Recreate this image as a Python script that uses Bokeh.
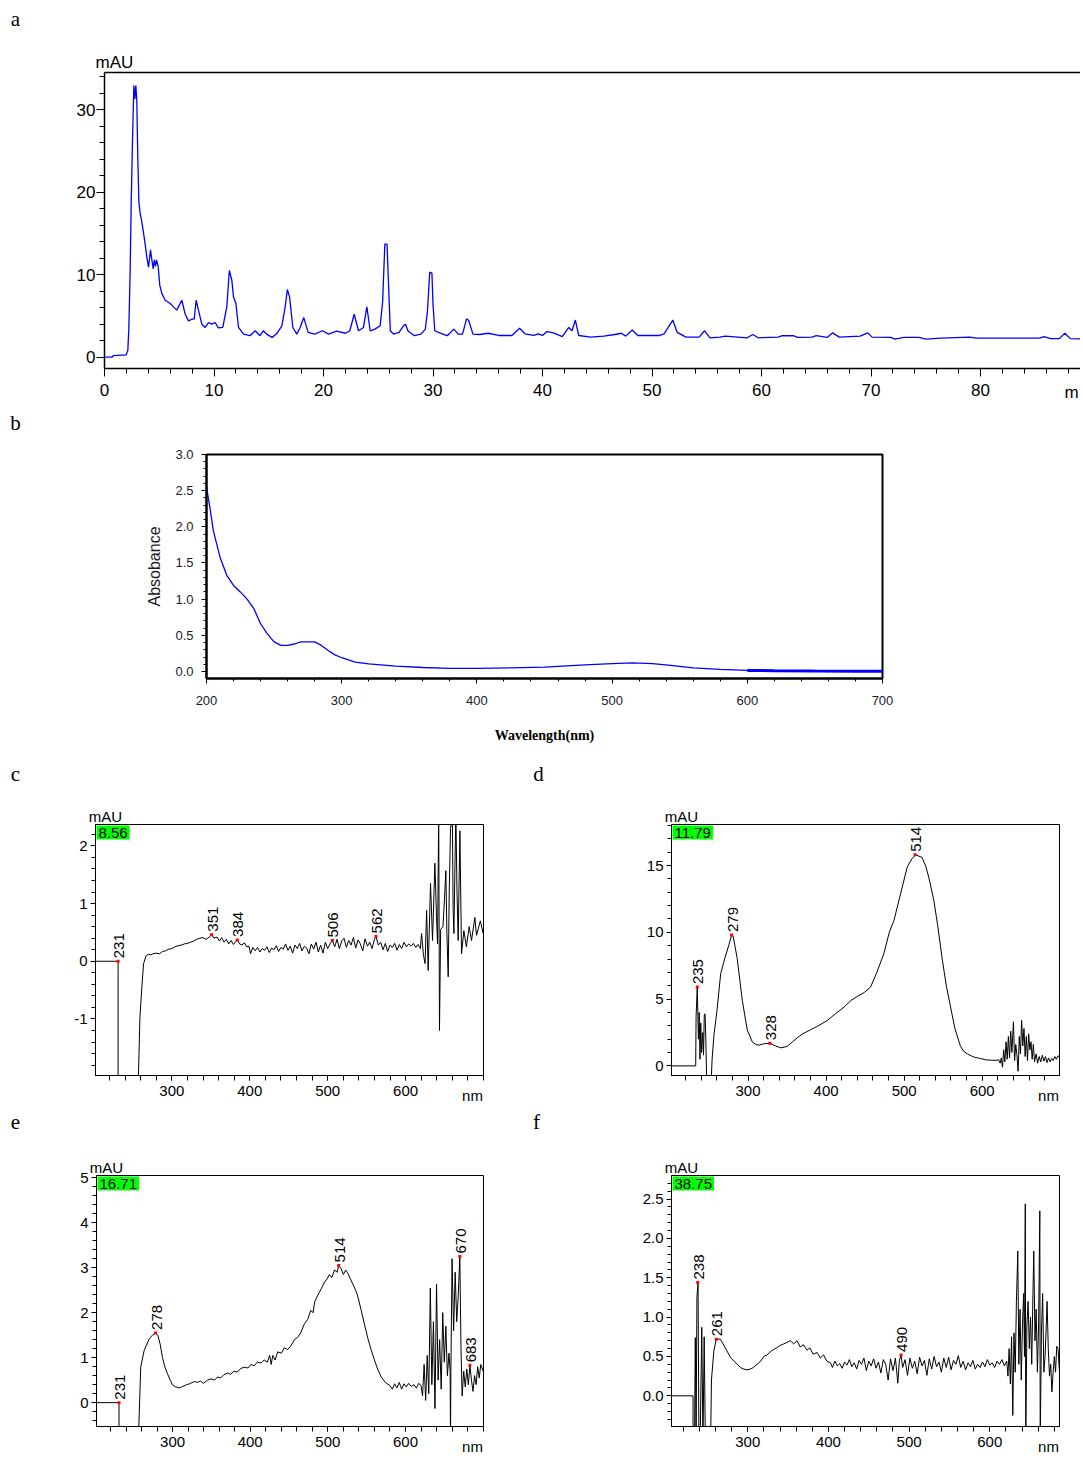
import math
import numpy as np
from bokeh.plotting import figure
from bokeh.models import Range1d, LinearAxis, FixedTicker, Label, NumeralTickFormatter
from bokeh.layouts import column, row
from bokeh.embed import file_html
from bokeh.resources import INLINE
from bokeh.core.properties import value

# ---------------- data ----------------
A_TIME = [0, 0.7, 0.8, 1.98, 2.13, 2.22, 2.34, 2.44, 2.56, 2.68, 2.77, 2.86, 2.95, 3.04, 3.14, 3.26, 3.41,
          3.56, 3.71, 3.87, 4.02, 4.2, 4.3, 4.45, 4.55, 4.65, 4.75, 4.9, 5.05, 5.24, 5.54, 6.0, 6.3, 6.6,
          7.06, 7.37, 7.67, 7.98, 8.19, 8.37, 8.58, 8.89, 9.19, 9.5, 9.8, 10.1, 10.4, 10.8, 11.17, 11.4,
          11.63, 11.78, 12.0, 12.24, 12.7, 13.3, 13.76, 14.2, 14.5, 14.8, 15.3, 15.7, 16.2, 16.5, 16.7,
          16.9, 17.2, 17.56, 17.87, 18.2, 18.6, 19.2, 19.9, 20.46, 21.2, 22.0, 22.4, 22.8, 23.2, 23.65,
          23.96, 24.26, 24.7, 25.17, 25.4, 25.6, 25.8, 25.9, 26.1, 26.4, 26.9, 27.3, 27.5, 27.7, 28.3,
          28.9, 29.3, 29.5, 29.7, 29.9, 30.0, 30.16, 30.5, 30.9, 31.3, 31.9, 32.3, 32.7, 33.06, 33.26,
          33.65, 34.25, 35.04, 36.0, 37.2, 37.9, 38.4, 39.2, 39.6, 40.0, 40.4, 41.0, 41.8, 42.4, 42.7,
          43.0, 43.3, 44.4, 45.6, 46.6, 47.2, 47.6, 48.2, 48.7, 50.7, 51.1, 51.9, 52.3, 53.1, 54.3, 54.8,
          55.3, 56.2, 56.7, 58.7, 59.2, 59.7, 61.5, 61.9, 62.9, 63.3, 64.6, 65.0, 66.0, 66.5, 67.1, 69.0,
          69.7, 70.1, 71.8, 72.2, 73.0, 74.4, 75.0, 76.4, 79.0, 79.6, 85.4, 85.8, 86.4, 87.2, 87.7, 88.2,
          89.3]
A_MAU = [0.0, 0.0, 0.2, 0.28, 0.8, 3.4, 10.3, 18.8, 26.4, 32.9, 31.3, 32.9, 31.1, 24.2, 18.8, 17.4, 16.4,
         15.1, 13.7, 12.1, 10.9, 13.0, 12.0, 10.7, 11.8, 11.0, 11.8, 11.0, 8.7, 7.7, 6.9, 6.5, 6.1, 5.7,
         6.9, 5.2, 4.4, 4.6, 4.6, 6.9, 5.7, 4.0, 3.6, 4.2, 4.0, 4.2, 3.55, 3.6, 6.1, 10.5,
         9.3, 7.3, 6.5, 3.6, 2.8, 2.6, 3.2, 2.6, 3.2, 2.8, 2.4, 2.8, 3.8, 6.1, 8.2,
         7.3, 3.6, 2.8, 3.6, 4.8, 3.0, 2.8, 3.2, 2.8, 3.15, 2.9, 3.2, 5.2, 3.2, 3.6,
         6.1, 3.2, 3.4, 3.8, 6.7, 13.7, 13.7, 10.1, 3.2, 2.8, 3.0, 3.8, 4.0, 3.2, 2.6,
         2.8, 3.4, 5.7, 10.3, 10.2, 6.4, 3.2, 3.0, 2.8, 2.6, 3.4, 2.8, 2.8, 4.65, 4.45,
         2.8, 2.75, 2.9, 2.63, 2.63, 3.5, 2.83, 2.63, 2.83, 2.63, 3.1, 2.95, 2.5, 3.6, 3.2,
         4.5, 2.63, 2.43, 2.55, 2.75, 2.9, 2.55, 3.3, 2.63, 2.63, 2.83, 4.5, 3.0, 2.43, 2.43, 3.2,
         2.35, 2.43, 2.55, 2.35, 2.75, 2.35, 2.43, 2.6, 2.6, 2.4, 2.43, 2.6, 2.4, 2.95, 2.43, 2.55,
         2.95, 2.43, 2.4, 2.2, 2.4, 2.4, 2.2, 2.3, 2.43, 2.3, 2.3, 2.5, 2.25, 2.25, 2.9, 2.25,
         2.2]
A_XTICKS = [0, 10, 20, 30, 40, 50, 60, 70, 80]
A_YTICKS = [0, 10, 20, 30]

B_WL = [200, 202.5, 205, 210, 215, 220, 225, 230, 235, 240, 245, 250, 255, 260, 265, 270, 275, 280, 285,
        290, 295, 300, 310, 320, 340, 360, 380, 400, 425, 450, 460, 480, 500, 515, 530, 545, 560, 580,
        600, 620, 650, 680, 700]
B_ABS = [2.55, 2.27, 1.95, 1.58, 1.33, 1.19, 1.10, 1.0, 0.87, 0.66, 0.52, 0.41, 0.36, 0.36, 0.38, 0.41,
         0.41, 0.41, 0.36, 0.29, 0.23, 0.19, 0.13, 0.106, 0.074, 0.055, 0.042, 0.042, 0.05, 0.06, 0.07,
         0.09, 0.11, 0.12, 0.11, 0.08, 0.05, 0.03, 0.015, 0.01, 0.005, 0.003, 0.003]
B_XTICKS = [200, 300, 400, 500, 600, 700]
B_YTICKS = [0.0, 0.5, 1.0, 1.5, 2.0, 2.5, 3.0]

C_SPECTRUM = [(202, 0), (231, 0), (231, -2.6), (256, -2.6), (259, -0.97), (261.5, -0.45), (263.7, -0.04),
    (267, 0.10), (270, 0.12), (273, 0.11), (276, 0.13), (280, 0.14), (284, 0.13), (288, 0.17), (292, 0.18),
    (296, 0.21), (300, 0.22), (304, 0.25), (308, 0.27), (312, 0.28), (316, 0.30), (320, 0.31), (324, 0.33),
    (328, 0.35), (332, 0.38), (336, 0.40), (340, 0.41), (344, 0.38), (348, 0.42), (351, 0.46), (354, 0.40),
    (358, 0.42), (361, 0.35), (364, 0.41), (367, 0.33), (370, 0.38), (373, 0.30), (376, 0.36), (379, 0.29),
    (382, 0.34), (384, 0.37), (387, 0.30), (390, 0.28), (393, 0.32), (396, 0.25), (399, 0.26), (401, 0.13),
    (404, 0.24), (407, 0.18), (410, 0.24), (413, 0.16), (416, 0.22), (419, 0.19), (422, 0.25), (425, 0.15),
    (428, 0.23), (431, 0.20), (434, 0.27), (437, 0.17), (440, 0.24), (443, 0.21), (446, 0.30), (449, 0.19),
    (452, 0.26), (455, 0.14), (458, 0.28), (461, 0.22), (464, 0.31), (467, 0.18), (470, 0.26), (473, 0.23),
    (476, 0.13), (479, 0.30), (482, 0.21), (485, 0.33), (488, 0.16), (491, 0.28), (494, 0.14), (497, 0.33),
    (500, 0.22), (503, 0.30), (506, 0.36), (509, 0.25), (512, 0.38), (515, 0.22), (518, 0.35), (521, 0.40),
    (524, 0.24), (527, 0.36), (530, 0.28), (533, 0.41), (536, 0.23), (539, 0.37), (542, 0.30), (545, 0.18),
    (548, 0.39), (551, 0.26), (554, 0.33), (557, 0.22), (560, 0.38), (562, 0.43), (565, 0.28), (568, 0.33),
    (571, 0.20), (574, 0.31), (577, 0.17), (580, 0.28), (583, 0.24), (586, 0.31), (589, 0.19), (592, 0.29),
    (595, 0.22), (598, 0.33), (601, 0.25), (604, 0.30), (607, 0.26), (610, 0.31), (613, 0.24), (616, 0.29),
    (619, 0.22), (620.5, 0.48), (623, 0.10), (625, -0.04), (627, 0.88), (629, -0.16), (632, 1.35),
    (634.6, 0.36), (637.6, 1.70), (639.7, 0.76), (641, 0.30), (642.5, 2.6), (643.5, -1.2), (645, 0.55),
    (648, 0.60), (650, 1.1), (651.7, 1.57), (653, 0.5), (654.7, -0.27), (656, 1.2), (657.7, 2.3), (660, 2.6),
    (661, 0.9), (662, 0.48), (664.5, 2.6), (666, 1.2), (667.5, 0.36), (669.7, 2.26), (671.8, 0.13),
    (674.8, 0.53), (678, 0.25), (681.6, 0.60), (684.6, 0.36), (688.9, 0.76), (691, 0.45), (693, 0.55),
    (696, 0.70), (699.6, 0.48)]
C_PEAK_WL = [231, 351, 384, 506, 562]
C_PEAK_MAU = [0.0, 0.46, 0.37, 0.36, 0.43]
C_TAG = "8.56"
C_YTICKS = [-1, 0, 1, 2]

D_SPECTRUM = [(202, 0), (233, 0), (233.5, 3.7), (235, 5.9), (236.5, 2.0), (237.5, 4.0), (238.5, 0.5),
    (239.5, 3.2), (240.5, 1.0), (242, 2.5), (243, 0.8), (244, 3.8), (245, 3.9), (246, 2.0), (247, -1.0),
    (253, -1.0), (254, 0.5), (256.5, 2.4), (260, 4.0), (265, 6.9), (270.5, 8.1), (275.7, 9.1), (279, 9.8),
    (281, 9.7), (286, 8.1), (292.7, 4.9), (299, 2.7), (305.5, 1.8), (310, 1.6), (314, 1.55), (320, 1.65),
    (328, 1.7), (335, 1.5), (342, 1.35), (350, 1.45), (357, 1.8), (363, 2.1), (370, 2.4), (380, 2.7),
    (390, 3.0), (401.6, 3.4), (412, 3.9), (423, 4.4), (432, 4.9), (440, 5.2), (449, 5.5), (457, 5.9),
    (465, 7.0), (474, 8.4), (481, 10.0), (487, 10.9), (495.5, 12.9), (504, 14.9), (510, 15.5),
    (514.7, 15.8), (519, 15.7), (523, 15.6), (528, 14.9), (532, 14.0), (538, 12.4), (543, 10.5),
    (549, 7.9), (554, 6.0), (559.5, 4.4), (565, 2.8), (572, 1.5), (576, 1.1), (581, 0.9), (586, 0.75),
    (590, 0.65), (594, 0.6), (598, 0.55), (605, 0.45), (612, 0.42), (619, 0.42), (621, 0.47), (623, 0.2),
    (624.5, 0.6), (626, -0.1), (627.5, 1.2), (629, 0.3), (630.5, 1.8), (632, 0.5), (633.5, 2.2), (635, 0.6),
    (636.5, 2.6), (638, 1.0), (640, 3.3), (641.5, 0.4), (643, 1.6), (644.5, 0.8), (646, -0.4), (647.5, 2.2),
    (649, 0.9), (650.5, 3.4), (652, 1.5), (653.5, 2.8), (655, 0.7), (656.5, 2.2), (658, 0.4), (659.5, 2.4),
    (661, 1.2), (662.5, 1.8), (664, 0.5), (665.5, 1.6), (667, 0.3), (669, 0.9), (671, 0.2), (673, 0.7),
    (675, 0.3), (677, 0.8), (679, 0.35), (681, 0.7), (683, 0.25), (685, 0.6), (687, 0.3), (689, 0.55),
    (691, 0.4), (693, 0.7), (695, 0.5), (697, 0.75), (699, 0.7)]
D_PEAK_WL = [235, 279, 328, 514]
D_PEAK_MAU = [5.9, 9.8, 1.7, 15.8]
D_TAG = "11.79"
D_YTICKS = [0, 5, 10, 15]

E_SPECTRUM = [(202, 0), (231, 0), (231, -0.8), (256, -0.8), (259, 0.8), (263.4, 1.16), (270, 1.42),
    (274, 1.50), (278, 1.55), (281, 1.5), (284, 1.3), (287, 1.0), (290, 0.8), (293.5, 0.64), (297, 0.5),
    (300, 0.39), (304, 0.35), (308.6, 0.33), (313, 0.36), (318, 0.40), (322, 0.42), (328, 0.47), (332, 0.45),
    (336, 0.48), (340, 0.43), (345, 0.50), (349.5, 0.53), (354, 0.50), (358, 0.57), (362, 0.55), (366, 0.62),
    (371, 0.66), (375, 0.63), (379, 0.70), (383, 0.68), (388, 0.76), (392.5, 0.79), (397, 0.77), (401, 0.85),
    (405, 0.82), (409, 0.90), (414, 0.88), (418, 0.95), (422, 0.90), (425, 1.05), (427, 0.85), (429, 1.05),
    (432, 0.95), (435.5, 1.13), (440, 1.10), (444, 1.22), (448, 1.18), (452, 1.25), (457, 1.40), (461, 1.45),
    (465, 1.55), (470, 1.76), (474, 1.85), (478, 2.05), (481, 2.0), (483, 2.24), (486, 2.35), (489, 2.45),
    (492, 2.55), (495.7, 2.68), (499, 2.75), (502, 2.85), (505, 2.78), (508.6, 2.95), (512, 2.90),
    (514, 3.05), (517, 2.98), (520, 2.85), (523, 2.95), (525.8, 2.87), (529, 2.75), (534, 2.57), (538, 2.4),
    (543, 2.05), (547, 1.75), (552, 1.4), (556, 1.16), (560, 0.95), (564, 0.75), (568.8, 0.57), (574, 0.45),
    (580, 0.38), (583, 0.30), (586, 0.42), (589, 0.33), (592, 0.45), (595, 0.30), (598, 0.42), (601, 0.35),
    (604, 0.43), (607.5, 0.36), (611, 0.40), (614, 0.32), (617, 0.43), (620, 0.38), (622, 0.15), (624, 0.85),
    (626, 0.05), (628, 1.05), (630, 0.2), (632, 2.55), (634, 0.4), (636, 1.8), (638, -0.13), (640, 2.64),
    (642, 0.5), (644, 1.4), (646, 0.3), (648, 2.0), (650, 0.9), (652, 1.7), (654, 0.6), (656, 1.1),
    (657.5, 0.7), (658, -0.8), (658.5, 0.7), (660, 3.2), (662, 1.6), (664, 2.9), (666, 1.8), (668, 2.4),
    (670, 3.25), (671.5, 1.2), (673, 0.15), (675, 0.7), (677, 0.35), (679, 0.75), (681, 0.4), (683, 0.83),
    (685, 0.5), (687, 0.25), (689, 0.6), (691, 0.4), (693, 0.8), (695, 0.55), (697, 0.85), (700, 0.7)]
E_PEAK_WL = [231, 278, 514, 670, 683]
E_PEAK_MAU = [0.0, 1.55, 3.05, 3.25, 0.83]
E_TAG = "16.71"
E_YTICKS = [0, 1, 2, 3, 4, 5]

F_SPECTRUM = [(205, 0), (232.2, 0), (232.2, -0.6), (234, -0.6), (235, 0.74), (236, -0.6), (237, 1.25),
    (238.4, 1.44), (239.5, -0.6), (241, -0.6), (243, 0.87), (244.5, -0.6), (246, 0.75), (247.5, -0.6),
    (254, -0.6), (255, 0.2), (258, 0.57), (261, 0.72), (266, 0.72), (271.6, 0.62), (278.5, 0.49),
    (283, 0.44), (287, 0.40), (291, 0.36), (295, 0.34), (299, 0.33), (303, 0.34), (307, 0.36),
    (311.6, 0.40), (316, 0.44), (320, 0.50), (324, 0.52), (328, 0.56), (332, 0.59), (336, 0.61), (340, 0.64),
    (344.6, 0.66), (349, 0.68), (353, 0.70), (357, 0.66), (361, 0.70), (365, 0.62), (369, 0.65),
    (373.5, 0.58), (377, 0.61), (381, 0.53), (386, 0.55), (390, 0.48), (394, 0.52), (398, 0.44),
    (402.5, 0.42), (405, 0.36), (408, 0.44), (411, 0.38), (414, 0.41), (417, 0.35), (420, 0.43), (423, 0.39),
    (426, 0.46), (429, 0.37), (432, 0.42), (435, 0.34), (438, 0.45), (441, 0.40), (444, 0.48), (447, 0.32),
    (450, 0.44), (453, 0.38), (456, 0.47), (459, 0.35), (462, 0.43), (465, 0.29), (468, 0.46), (471, 0.40),
    (474, 0.20), (477, 0.47), (480, 0.32), (483, 0.48), (486, 0.16), (488, 0.45), (490, 0.52), (492, 0.36),
    (495, 0.46), (498, 0.26), (501, 0.48), (504, 0.35), (507, 0.44), (510, 0.28), (513, 0.49), (516, 0.38),
    (519, 0.45), (522, 0.26), (525, 0.47), (528, 0.34), (531, 0.50), (534, 0.37), (537, 0.43), (540, 0.30),
    (543, 0.48), (546, 0.36), (549, 0.49), (552, 0.33), (555, 0.45), (558, 0.40), (561, 0.51), (564, 0.36),
    (567, 0.44), (570, 0.33), (573, 0.42), (576, 0.37), (579, 0.45), (582, 0.34), (585, 0.40), (588, 0.36),
    (591, 0.43), (594, 0.37), (597, 0.46), (600, 0.39), (603, 0.42), (606, 0.36), (609, 0.44), (612, 0.40),
    (615, 0.46), (618, 0.38), (621, 0.44), (622.5, 0.25), (624, 0.6), (625.5, 0.15), (627, 0.75),
    (628.5, -0.25), (630, 0.8), (631.5, 0.3), (633, 1.2), (634.7, 1.84), (636, 0.4), (637.5, 1.1), (639, 0.2),
    (640.5, 0.9), (642, 1.3), (643, 0.5), (644, 2.44), (644.6, -0.6), (646, 0.9), (647.5, 1.2), (649, 0.6),
    (650.5, 1.0), (652, 0.4), (653.5, 1.3), (654.5, 1.84), (656, 0.7), (657.5, 1.1), (659, 0.3),
    (660.5, 0.9), (662, 2.35), (662.5, -0.6), (664, 0.8), (665.5, 1.3), (667, 0.3), (668.5, 0.5), (670, 0.9),
    (671, 1.2), (672.5, 0.6), (674, 0.25), (675.5, 0.4), (677, 0.05), (678.5, 0.3), (680, 0.5),
    (681.5, 0.3), (683, 0.63), (684.5, 0.6), (686.4, 0.3)]
F_PEAK_WL = [238, 261, 490]
F_PEAK_MAU = [1.44, 0.72, 0.52]
F_TAG = "38.75"
F_YTICKS = [0.0, 0.5, 1.0, 1.5, 2.0, 2.5]

NM_TICKS = [300, 400, 500, 600]

# ---------------- styling helpers ----------------
SANS = "'Liberation Sans', Arial, sans-serif"
SERIF = "'Liberation Serif', 'Times New Roman', serif"


def make_fig(canvas, frame, xr, yr):
    cl, ct, cr, cb = canvas
    L, T, R, B = frame
    p = figure(width=cr - cl, height=cb - ct, x_range=Range1d(*xr), y_range=Range1d(*yr),
               output_backend="svg", toolbar_location=None, x_axis_type=None, y_axis_type=None,
               min_border_left=L - cl, min_border_right=cr - R, min_border_top=T - ct,
               min_border_bottom=cb - B)
    p.background_fill_color = "white"
    p.border_fill_color = "white"
    p.outline_line_color = "black"
    p.outline_line_width = 1
    if "frame_align" in p.properties():
        p.frame_align = False
    return p


def add_axis(p, side, ticks, minor, font, size, maj_out, min_out, standoff, lw=1, fmt=None,
             color="black", overrides=None):
    ax = LinearAxis(ticker=FixedTicker(ticks=ticks, minor_ticks=minor))
    ax.axis_line_color = "black"
    ax.axis_line_width = lw
    ax.major_tick_line_color = "black"
    ax.minor_tick_line_color = "black"
    ax.major_tick_in = 0
    ax.major_tick_out = maj_out
    ax.minor_tick_in = 0
    ax.minor_tick_out = min_out
    ax.major_label_text_font = font
    ax.major_label_text_font_size = size
    ax.major_label_text_color = color
    ax.major_label_standoff = standoff
    if fmt:
        ax.formatter = NumeralTickFormatter(format=fmt)
    if overrides:
        ax.major_label_overrides = overrides
    p.add_layout(ax, side)
    return ax


def add_text(p, spec, side, px, py, text, font, size, align="center", baseline="middle", angle=0.0,
             style="normal", color="black"):
    # page-pixel position converted to canvas units; placed in a side panel so it is not clipped
    cl, ct, cr, cb = spec["canvas"]
    p.add_layout(Label(x=px - cl, y=py - ct, x_units="canvas", y_units="canvas", text=text,
                       text_font=font, text_font_size=size, text_align=align, text_baseline=baseline,
                       angle=angle, text_font_style=style, text_color=color), side)


# ---------------- panel a ----------------
SA = dict(canvas=(0, 0, 1080, 410), frame=(104, 72, 1080, 368), xr=(0, 89.13), yr=(-1.37, 34.49))
pa = make_fig(**SA)
pa.outline_line_color = None
add_axis(pa, "below", A_XTICKS, list(range(0, 90, 2)), SANS, "17px", 8, 5, 7, lw=1.5)
add_axis(pa, "left", A_YTICKS, list(range(0, 35, 2)), SANS, "17px", 8, 5, 1, lw=1.5)
top = LinearAxis(ticker=FixedTicker(ticks=[], minor_ticks=[]), major_label_text_font_size="0px",
                 axis_line_width=1.5, axis_line_color="black")
pa.add_layout(top, "above")
pa.line(A_TIME, A_MAU, line_color="#0000ff", line_width=1.3)
add_text(pa, SA, "above", 114, 62, "mAU", SANS, "17px")
add_text(pa, SA, "above", 1071, 392, "m", SANS, "17px")
add_text(pa, SA, "left", 15, 18, "a", SERIF, "21px")

# ---------------- panel b ----------------
SB = dict(canvas=(0, 410, 1080, 760), frame=(206, 454, 882, 678), xr=(200, 700), yr=(-0.097, 3.0))
pb = make_fig(**SB)
pb.outline_line_width = 2
bx = add_axis(pb, "below", B_XTICKS, list(range(200, 701, 20)), SANS, "13px", 5, 3, 12, lw=2,
              color="#1a1a2a")
by = add_axis(pb, "left", B_YTICKS, [round(0.1 * k, 1) for k in range(0, 31)], SANS, "13px", 5, 3, 8,
              lw=2, fmt="0.0", color="#1a1a2a")
bx.axis_label = "Wavelength(nm)"
bx.axis_label_text_font = SERIF
bx.axis_label_text_font_size = "14px"
bx.axis_label_text_font_style = "bold"
bx.axis_label_text_color = "black"
bx.axis_label_standoff = 20
by.axis_label = "Absobance"
by.axis_label_text_font = SANS
by.axis_label_text_font_size = "16px"
by.axis_label_text_font_style = "normal"
by.axis_label_text_color = "#1a1a2a"
by.axis_label_standoff = 9
pb.line(B_WL, B_ABS, line_color="#0000ff", line_width=1.3)
b_wl = np.array(B_WL)
b_abs = np.array(B_ABS)
tail = b_wl >= 590
pb.line(b_wl[tail], b_abs[tail], line_color="#0000ff", line_width=3)
add_text(pb, SB, "left", 15, 422, "b", SERIF, "21px")


# ---------------- panels c-f ----------------
def spectrum_panel(spec, points, peak_wl, peak_mau, tag, yticks, yminor, letter, letter_px, fmt=None):
    p = make_fig(**spec)
    L, T, R, B = spec["frame"]
    add_axis(p, "below", NM_TICKS, list(range(220, 701, 20)), SANS, "15px", 5, 5, 5)
    over = {t: str(t) for t in yticks if t < 0}
    add_axis(p, "left", yticks, yminor, SANS, "15px", 5, 4, 3, fmt=fmt, overrides=over or None)
    wl = [w for w, _ in points]
    mau = [m for _, m in points]
    p.line(wl, mau, line_color="black", line_width=1)
    p.scatter(peak_wl, peak_mau, marker="square", size=3, color="red", line_color=None)
    p.text(peak_wl, peak_mau, text=[str(w) for w in peak_wl], angle=math.pi / 2, text_align="left",
           text_baseline="alphabetic", y_offset=-3, x_offset=1, text_font=value(SANS),
           text_font_size="15px", text_color="black")
    x0, x1 = spec["xr"]
    y0, y1 = spec["yr"]
    p.add_layout(Label(x=x0, y=y1, x_offset=1, y_offset=-1, text=tag, text_font=SANS,
                       text_font_size="15px", text_align="left", text_baseline="top",
                       background_fill_color="#00ff00", padding=2, text_color="black"))
    add_text(p, spec, "above", L + 10, T - 8, "mAU", SANS, "15px")
    add_text(p, spec, "above", R - 11, B + 20, "nm", SANS, "15px")
    add_text(p, spec, "left", letter_px[0], letter_px[1], letter, SERIF, "21px")
    return p


SC = dict(canvas=(0, 760, 528, 1110), frame=(95, 824, 483, 1075), xr=(202, 700), yr=(-1.98, 2.37))
SD = dict(canvas=(528, 760, 1080, 1110), frame=(671, 824, 1059, 1075), xr=(202, 699), yr=(-0.72, 18.07))
SE = dict(canvas=(0, 1110, 528, 1456), frame=(96, 1175, 483, 1426), xr=(202, 700.5), yr=(-0.53, 5.05))
SF = dict(canvas=(528, 1110, 1080, 1456), frame=(671, 1175, 1059, 1426), xr=(205.5, 686.4), yr=(-0.39, 2.80))

pc = spectrum_panel(SC, C_SPECTRUM, C_PEAK_WL, C_PEAK_MAU, C_TAG, C_YTICKS,
                    [round(-1.8 + 0.2 * k, 1) for k in range(0, 21)], "c", (15, 773))
pd_ = spectrum_panel(SD, D_SPECTRUM, D_PEAK_WL, D_PEAK_MAU, D_TAG, D_YTICKS,
                     list(range(0, 19)), "d", (538, 773))
pe = spectrum_panel(SE, E_SPECTRUM, E_PEAK_WL, E_PEAK_MAU, E_TAG, E_YTICKS,
                    [round(-0.4 + 0.2 * k, 1) for k in range(0, 28)], "e", (15, 1121))
pf = spectrum_panel(SF, F_SPECTRUM, F_PEAK_WL, F_PEAK_MAU, F_TAG, F_YTICKS,
                    [round(-0.3 + 0.1 * k, 1) for k in range(0, 31)], "f", (536, 1121), fmt="0.0")

layout = column(row(pa), row(pb), row(pc, pd_), row(pe, pf))
open("out.html", "w").write(file_html(layout, INLINE))
